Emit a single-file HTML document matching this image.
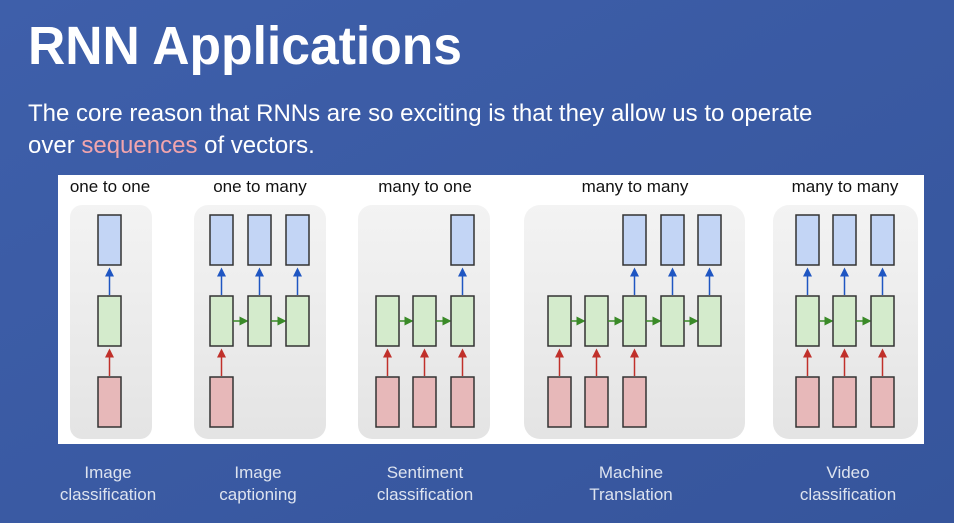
<!DOCTYPE html>
<html><head><style>
body{margin:0;width:954px;height:523px;overflow:hidden;background:#3c5da6;font-family:"Liberation Sans",sans-serif}
</style></head><body>
<svg width="954" height="523" xmlns="http://www.w3.org/2000/svg" style="position:absolute;left:0;top:0">
<defs>
<linearGradient id="bg" x1="0" y1="0" x2="1" y2="1"><stop offset="0" stop-color="#3e5faa"/><stop offset="1" stop-color="#36559c"/></linearGradient>
<linearGradient id="gb" x1="0" y1="0" x2="0" y2="1"><stop offset="0" stop-color="#f3f3f3"/><stop offset="1" stop-color="#e4e4e4"/></linearGradient>
<marker id="ab" markerWidth="6" markerHeight="6" refX="3" refY="3" orient="auto"><path d="M0,0 L6,3 L0,6z" fill="#1f56c2"/></marker>
<marker id="ar" markerWidth="6" markerHeight="6" refX="3" refY="3" orient="auto"><path d="M0,0 L6,3 L0,6z" fill="#c0302a"/></marker>
<marker id="ag" markerWidth="6" markerHeight="6" refX="3" refY="3" orient="auto"><path d="M0,0 L6,3 L0,6z" fill="#3a8a28"/></marker>
</defs>
<rect width="954" height="523" fill="url(#bg)"/>
<text x="28" y="64" font-size="54" font-weight="bold" fill="#fff" textLength="434" lengthAdjust="spacingAndGlyphs">RNN Applications</text>
<text x="28" y="121" font-size="24" fill="#fff">The core reason that RNNs are so exciting is that they allow us to operate</text>
<text x="28" y="153" font-size="24" fill="#fff">over <tspan fill="#f2a5ad">sequences</tspan> of vectors.</text>
<rect x="58" y="175" width="866" height="269" fill="#fff"/>
<g font-size="17" fill="#111" text-anchor="middle">
<text x="110" y="192">one to one</text><text x="260" y="192">one to many</text><text x="425" y="192">many to one</text><text x="635" y="192">many to many</text><text x="845" y="192">many to many</text>
</g>
<g fill="url(#gb)">
<rect x="70" y="205" width="82" height="234" rx="12"/>
<rect x="194" y="205" width="132" height="234" rx="14"/>
<rect x="358" y="205" width="132" height="234" rx="14"/>
<rect x="524" y="205" width="221" height="234" rx="16"/>
<rect x="773" y="205" width="145" height="234" rx="16"/>
</g>
<g id="d" stroke="#333" stroke-width="1.5"></g>
<g font-size="17" fill="#dde3ef" text-anchor="middle">
<text x="108" y="478">Image</text><text x="108" y="500">classification</text>
<text x="258" y="478">Image</text><text x="258" y="500">captioning</text>
<text x="425" y="478">Sentiment</text><text x="425" y="500">classification</text>
<text x="631" y="478">Machine</text><text x="631" y="500">Translation</text>
<text x="848" y="478">Video</text><text x="848" y="500">classification</text>
</g>
</svg>
<script>
var g=document.getElementById('d'),ns='http://www.w3.org/2000/svg';
function r(x,y,c){var e=document.createElementNS(ns,'rect');e.setAttribute('x',x);e.setAttribute('y',y);e.setAttribute('width',23);e.setAttribute('height',50);e.setAttribute('fill',c);g.appendChild(e);}
function l(x1,y1,x2,y2,c,m){var e=document.createElementNS(ns,'line');e.setAttribute('x1',x1);e.setAttribute('y1',y1);e.setAttribute('x2',x2);e.setAttribute('y2',y2);e.setAttribute('stroke',c);e.setAttribute('stroke-width',1.5);e.setAttribute('marker-end','url(#'+m+')');g.appendChild(e);}
var G=[[[98],[0],[0]],[[210,248,286],[0,1,2],[0]],[[376,413,451],[2],[0,1,2]],[[548,585,623,661,698],[2,3,4],[0,1,2]],[[796,833,871],[0,1,2],[0,1,2]]];
G.forEach(function(q){var c=q[0];
c.forEach(function(x,i){r(x,296,'#d4ebcc');
 if(i<c.length-1)l(x+23,321,c[i+1]-4,321,'#3a8a28','ag');});
q[1].forEach(function(i){var x=c[i];r(x,215,'#c3d5f5');l(x+11.5,295,x+11.5,272,'#1f56c2','ab');});
q[2].forEach(function(i){var x=c[i];r(x,377,'#e7b8b9');l(x+11.5,376,x+11.5,353,'#c0302a','ar');});
});
</script>
</body></html>
